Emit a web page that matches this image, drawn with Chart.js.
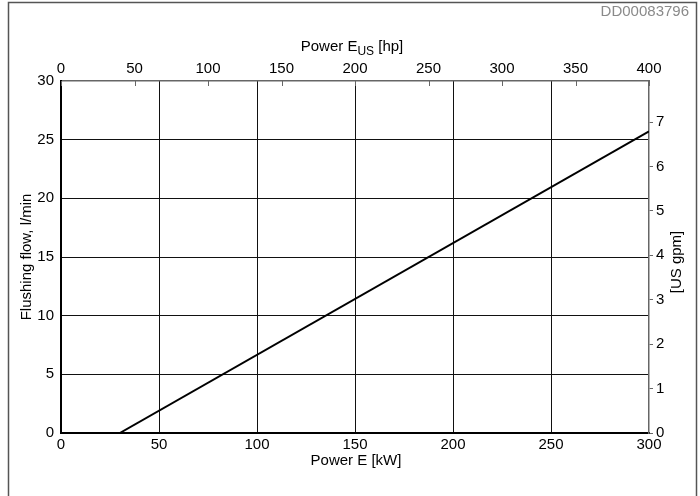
<!DOCTYPE html>
<html>
<head>
<meta charset="utf-8">
<script src="https://cdn.jsdelivr.net/npm/chart.js@4.4.1/dist/chart.umd.min.js"></script>
<style>
  body { margin: 0; background: #fff; }
</style>
</head>
<body>
<canvas id="chart" width="700" height="496"></canvas>
<script>
const powerKw = [30, 300]
const flushingFlow = [0, 25.7]

const kwTicks = [0, 50, 100, 150, 200, 250, 300]
const hpTicks = [0, 50, 100, 150, 200, 250, 300, 350, 400]
const flowTicks = [0, 5, 10, 15, 20, 25, 30]
const gpmTicks = [0, 1, 2, 3, 4, 5, 6, 7]

const LITRES_PER_GALLON = 3.785

const FONT = '"Liberation Sans", Arial, sans-serif'
Chart.defaults.font.family = FONT
Chart.defaults.font.size = 15
Chart.defaults.color = '#000'

const useTicks = arr => scale => { scale.ticks = arr.map(v => ({ value: v })) }
const fixSize = (prop, px) => scale => { scale[prop] = px }
// hide grid lines that sit on the plot border
const innerGrid = (lo, hi) => c => (c.tick && (c.tick.value === lo || c.tick.value === hi)) ? 'rgba(0,0,0,0)' : '#111'

const extras = {
  id: 'extras',
  beforeDraw(chart) {
    const c = chart.ctx
    c.save()
    c.fillStyle = '#fff'
    c.fillRect(0, 0, chart.width, chart.height)
    c.strokeStyle = '#555'
    c.lineWidth = 1.5
    c.strokeRect(8.5, 2.5, 688, 520)
    c.fillStyle = '#8a8a8a'
    c.font = '15px ' + FONT
    c.textAlign = 'right'
    c.textBaseline = 'middle'
    c.fillText('DD00083796', 689, 12)
    c.restore()
  },
  afterDraw(chart) {
    const c = chart.ctx
    const a = chart.chartArea
    const cx = (a.left + a.right) / 2
    const cy = (a.top + a.bottom) / 2
    c.save()
    c.fillStyle = '#000'
    c.textBaseline = 'middle'

    // inward ticks on the hp axis
    const top = chart.scales.hp
    c.strokeStyle = '#666'
    c.lineWidth = 1
    top.ticks.forEach(t => {
      const px = Math.round(top.getPixelForValue(t.value)) + 0.5
      c.beginPath()
      c.moveTo(px, a.top)
      c.lineTo(px, a.top + 5)
      c.stroke()
    })

    // bottom title
    c.font = '15px ' + FONT
    c.textAlign = 'center'
    c.fillText('Power E [kW]', cx + 1, 461)

    // top title with subscript
    const p1 = 'Power E', sub = 'US', p2 = ' [hp]'
    c.font = '15px ' + FONT
    const w1 = c.measureText(p1).width, w3 = c.measureText(p2).width
    c.font = '12px ' + FONT
    const w2 = c.measureText(sub).width
    let x = cx - 3 - (w1 + w2 + w3) / 2
    c.textAlign = 'left'
    c.font = '15px ' + FONT
    c.fillText(p1, x, 47)
    c.font = '12px ' + FONT
    c.fillText(sub, x + w1, 52)
    c.font = '15px ' + FONT
    c.fillText(p2, x + w1 + w2, 47)

    // left title
    c.textAlign = 'center'
    c.font = '15px ' + FONT
    c.save()
    c.translate(27, cy)
    c.rotate(-Math.PI / 2)
    c.fillText('Flushing flow, l/min', 0, 0)
    c.restore()

    // right title
    c.save()
    c.translate(677, cy + 5)
    c.rotate(-Math.PI / 2)
    c.fillText('[US gpm]', 0, 0)
    c.restore()
    c.restore()
  }
}

new Chart(document.getElementById('chart'), {
  type: 'line',
  data: {
    datasets: [{
      data: powerKw.map((v, i) => ({ x: v, y: flushingFlow[i] })),
      borderColor: '#000',
      borderWidth: 2,
      pointRadius: 0,
      tension: 0
    }]
  },
  options: {
    responsive: false,
    animation: false,
    layout: { padding: 0 },
    plugins: { legend: { display: false }, tooltip: { enabled: false } },
    scales: {
      x: {
        type: 'linear', position: 'bottom', min: 0, max: 300,
        afterBuildTicks: useTicks(kwTicks),
        afterFit: fixSize('height', 63),
        grid: { color: innerGrid(0, 300), lineWidth: 1, drawTicks: false },
        border: { color: '#000', width: 2 },
        ticks: { padding: 3, maxRotation: 0 }
      },
      hp: {
        type: 'linear', position: 'top', min: 0, max: 400,
        afterBuildTicks: useTicks(hpTicks),
        afterFit: fixSize('height', 81),
        grid: { drawOnChartArea: false, drawTicks: false },
        border: { color: '#666', width: 1.5 },
        ticks: { padding: 3, maxRotation: 0 }
      },
      y: {
        type: 'linear', position: 'left', min: 0, max: 30,
        afterBuildTicks: useTicks(flowTicks),
        afterFit: fixSize('width', 61),
        grid: { color: innerGrid(0, 30), lineWidth: 1, drawTicks: false },
        border: { color: '#000', width: 2 },
        ticks: { padding: 7 }
      },
      gpm: {
        type: 'linear', position: 'right', min: 0, max: 30 / LITRES_PER_GALLON,
        afterBuildTicks: useTicks(gpmTicks),
        afterFit: fixSize('width', 51),
        grid: { drawOnChartArea: false, drawTicks: true, tickLength: 4, color: '#666' },
        border: { color: '#666', width: 1.5 },
        ticks: { padding: 3 }
      }
    }
  },
  plugins: [extras]
})
</script>
</body>
</html>
